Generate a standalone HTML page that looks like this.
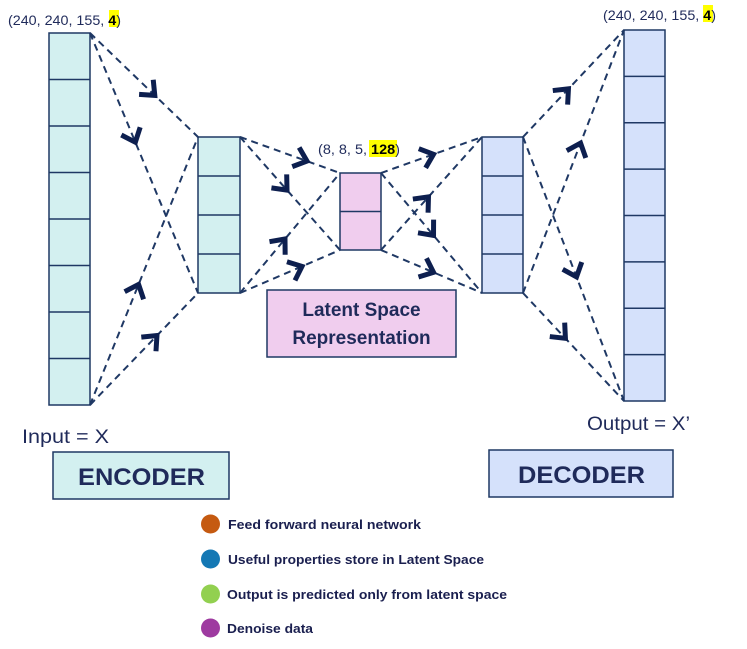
<!DOCTYPE html>
<html><head><meta charset="utf-8"><style>
body{margin:0;background:#fff;width:747px;height:649px;overflow:hidden;font-family:"Liberation Sans",sans-serif}
svg{position:absolute;left:0;top:0}
</style></head><body>
<svg width="747" height="649" viewBox="0 0 747 649" xmlns="http://www.w3.org/2000/svg">
<g stroke="#1f3864" stroke-width="1.5">
<g fill="#d3f0f0">
<rect x="49" y="33" width="41" height="372"/>
<rect x="198" y="137" width="42" height="156"/>
</g>
<g fill="#f0cdee"><rect x="340" y="173" width="41" height="77"/></g>
<g fill="#d5e1fb">
<rect x="482" y="137" width="41" height="156"/>
<rect x="624" y="30" width="41" height="371"/>
</g>
<path d="M49 79.5H90M49 126H90M49 172.5H90M49 219H90M49 265.5H90M49 312H90M49 358.5H90 M198 176H240M198 215H240M198 254H240 M340 211.5H381 M482 176H523M482 215H523M482 254H523 M624 76.4H665M624 122.8H665M624 169.1H665M624 215.5H665M624 261.9H665M624 308.3H665M624 354.6H665" fill="none"/>
</g>
<g stroke="#1f3864" stroke-width="2" stroke-dasharray="7,5" fill="none">
<path d="M90 33L198 137M90 33L198 293M90 405L198 137M90 405L198 293"/>
<path d="M240 137L340 173M240 137L340 250M240 293L340 173M240 293L340 250"/>
<path d="M381 173L482 137M381 173L482 293M381 250L482 137M381 250L482 293"/>
<path d="M523 137L624 30M523 137L624 401M523 293L624 30M523 293L624 401"/>
</g>
<g id="ch" stroke="#0d1f4f" stroke-width="5" fill="none" stroke-linecap="butt"></g>
<rect x="267" y="290" width="189" height="67" fill="#f0cdee" stroke="#1f3864" stroke-width="1.5"/>
<text x="361.5" y="316" text-anchor="middle" font-size="19" font-weight="bold" fill="#1f2a5a">Latent Space</text>
<text x="361.5" y="344" text-anchor="middle" font-size="19" font-weight="bold" fill="#1f2a5a">Representation</text>
<rect x="53" y="452" width="176" height="47" fill="#d3f0f0" stroke="#1f3864" stroke-width="1.5"/>
<text x="78" y="485" font-size="24" font-weight="bold" fill="#1f2a5a" textLength="127" lengthAdjust="spacingAndGlyphs">ENCODER</text>
<rect x="489" y="450" width="184" height="47" fill="#d5e1fb" stroke="#1f3864" stroke-width="1.5"/>
<text x="518" y="483" font-size="24" font-weight="bold" fill="#1f2a5a" textLength="127" lengthAdjust="spacingAndGlyphs">DECODER</text>
<text x="22" y="443" font-size="19" fill="#1f2a5a" textLength="87" lengthAdjust="spacingAndGlyphs">Input = X</text>
<text x="587" y="430" font-size="19" fill="#1f2a5a" textLength="103" lengthAdjust="spacingAndGlyphs">Output = X’</text>
<rect x="109" y="10" width="10" height="17" fill="#ffff00"/>
<text x="8" y="25" font-size="13.5" fill="#1f2a5a" textLength="113" lengthAdjust="spacingAndGlyphs">(240, 240, 155, <tspan font-weight="bold" fill="#000">4</tspan>)</text>
<rect x="369" y="140" width="28" height="17" fill="#ffff00"/>
<text x="318" y="154" font-size="13.5" fill="#1f2a5a" textLength="82" lengthAdjust="spacingAndGlyphs">(8, 8, 5, <tspan font-weight="bold" fill="#000">128</tspan>)</text>
<rect x="703" y="5" width="10" height="17" fill="#ffff00"/>
<text x="603" y="20" font-size="13.5" fill="#1f2a5a" textLength="113" lengthAdjust="spacingAndGlyphs">(240, 240, 155, <tspan font-weight="bold" fill="#000">4</tspan>)</text>
<circle cx="210.5" cy="524" r="9.5" fill="#c55a11"/>
<circle cx="210.5" cy="559" r="9.5" fill="#1478b4"/>
<circle cx="210.5" cy="594" r="9.5" fill="#92d050"/>
<circle cx="210.5" cy="628" r="9.5" fill="#9e3aa0"/>
<g font-size="13" font-weight="bold" fill="#1a1f4f">
<text x="228" y="529" textLength="193" lengthAdjust="spacingAndGlyphs">Feed forward neural network</text>
<text x="228" y="564" textLength="256" lengthAdjust="spacingAndGlyphs">Useful properties store in Latent Space</text>
<text x="227" y="599" textLength="280" lengthAdjust="spacingAndGlyphs">Output is predicted only from latent space</text>
<text x="227" y="633" textLength="86" lengthAdjust="spacingAndGlyphs">Denoise data</text>
</g>
</svg>
<script>
var segs=[[90,33,198,137,.6],[90,33,198,293,.42],[90,405,198,137,.45],[90,405,198,293,.62],
[240,137,340,173,.67],[240,137,340,250,.47],[240,293,340,173,.45],[240,293,340,250,.62],
[381,173,482,137,.52],[381,173,482,293,.52],[381,250,482,137,.47],[381,250,482,293,.52],
[523,137,624,30,.45],[523,137,624,401,.53],[523,293,624,30,.57],[523,293,624,401,.42]];
var g=document.getElementById('ch'),s='';
segs.forEach(function(a){var t=a[4],x=a[0]+(a[2]-a[0])*t,y=a[1]+(a[3]-a[1])*t;
var dx=a[2]-a[0],dy=a[3]-a[1],L=Math.hypot(dx,dy);dx/=L;dy/=L;var px=-dy,py=dx,k=12;
var x1=x-dx*k+px*k*0.85,y1=y-dy*k+py*k*0.85,x2=x-dx*k-px*k*0.85,y2=y-dy*k-py*k*0.85;
s+='<polyline points="'+x1+','+y1+' '+x+','+y+' '+x2+','+y2+'"/>';});
g.innerHTML=s;
</script>
</body></html>
